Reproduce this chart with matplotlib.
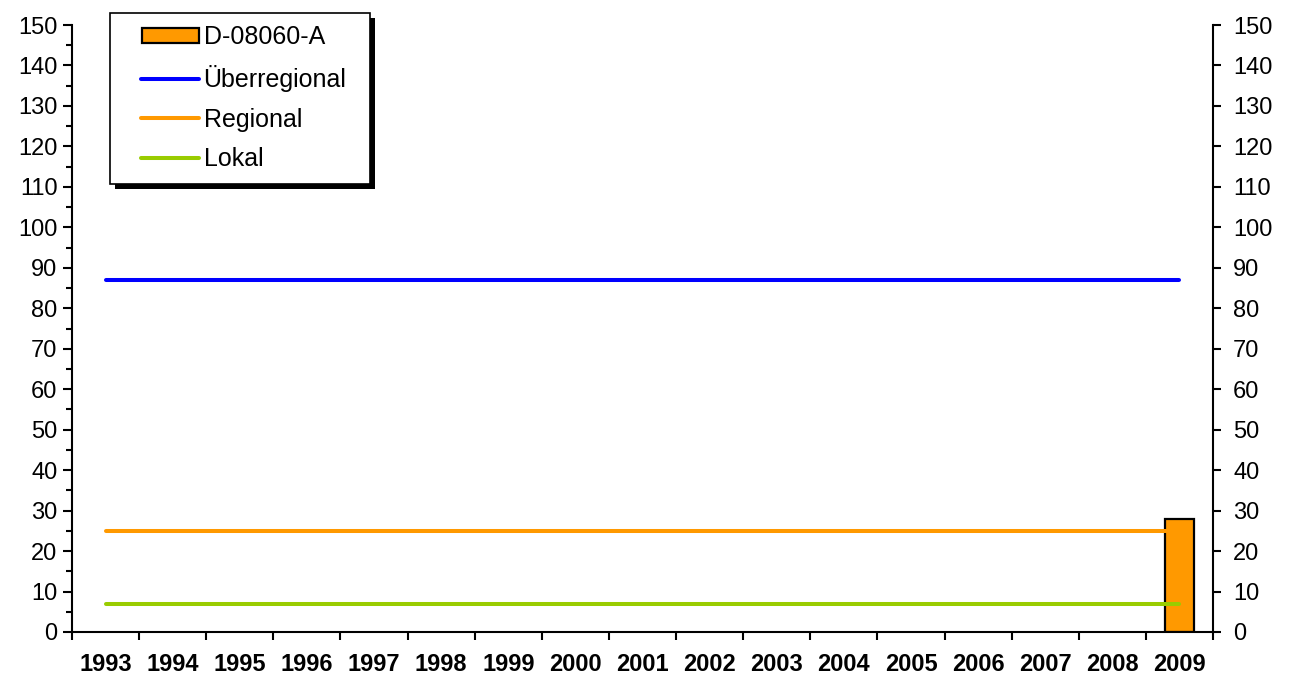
import matplotlib
matplotlib.use("Agg")
import matplotlib.pyplot as plt
import numpy as np
from matplotlib.ticker import MultipleLocator, FixedLocator
from matplotlib.patches import Rectangle
from matplotlib.lines import Line2D
from matplotlib.legend_handler import HandlerLine2D, HandlerPatch

plt.rcParams['font.family'] = ['Liberation Sans', 'DejaVu Sans']

years = [str(y) for y in range(1993, 2010)]
bar_values = [0] * 16 + [28]
ueberregional = [87] * 17
regional = [25] * 17
lokal = [7] * 17

BAR_COLOR = '#FF9900'
W, H = 1290, 678
fig = plt.figure(figsize=(W / 100, H / 100), dpi=100)
ax = fig.add_axes([72 / W, 1 - 632 / H, 1141 / W, 607 / H])

x = np.arange(len(years))
bars = ax.bar(x, bar_values, width=0.42, color=BAR_COLOR, edgecolor='black',
              linewidth=1.6, zorder=2)
for b, v in zip(bars, bar_values):
    if v == 0:
        b.set_linewidth(0)
line_kw = dict(lw=2.9, solid_capstyle='round', zorder=3)
l1, = ax.plot(x, ueberregional, color='#0000FF', **line_kw)
l2, = ax.plot(x, regional, color='#FF9900', **line_kw)
l3, = ax.plot(x, lokal, color='#99CC00', **line_kw)

ax.set_xlim(-0.5, len(years) - 0.5)
ax.set_ylim(0, 150)

for s in ['left', 'right', 'bottom']:
    ax.spines[s].set_linewidth(1.5)
ax.spines['top'].set_visible(False)

fs = 17
ax.yaxis.set_major_locator(MultipleLocator(10))
ax.yaxis.set_minor_locator(MultipleLocator(5))
ax.tick_params(axis='y', which='major', length=6.5, width=1.5, labelsize=fs, pad=4)
ax.tick_params(axis='y', which='minor', length=4.5, width=1.5)

ax.set_xticks(x)
ax.set_xticklabels(years, fontweight='bold', fontsize=fs)
ax.xaxis.set_minor_locator(FixedLocator(np.arange(-0.5, len(years), 1.0)))
ax.tick_params(axis='x', which='major', length=0, pad=15)
ax.tick_params(axis='x', which='minor', length=5.5, width=1.5)

ax2 = ax.twinx()
ax2.set_ylim(0, 150)
ax2.yaxis.set_major_locator(MultipleLocator(10))
ax2.tick_params(axis='y', which='major', length=5.5, width=1.5, labelsize=fs, pad=9)
for s in ax2.spines.values():
    s.set_visible(False)

# legend
lfs = 18
bar_handle = Rectangle((0, 0), 1, 1, facecolor=BAR_COLOR, edgecolor='black', linewidth=1.6)
xpad = 0.72
hmap = {Rectangle: HandlerPatch(xpad=xpad + 0.05),
        Line2D: HandlerLine2D(xpad=xpad)}
leg = fig.legend([bar_handle, l1, l2, l3], ['D-08060-A', 'Überregional', 'Regional', 'Lokal'],
                 loc='upper left', mode='expand',
                 bbox_to_anchor=(110 / W, 1 - 182 / H, 260 / W, 169 / H),
                 bbox_transform=fig.transFigure, borderaxespad=0,
                 fancybox=False, frameon=True, edgecolor='black', framealpha=1,
                 fontsize=lfs, handlelength=3.04, handleheight=0.56, handletextpad=0.2,
                 labelspacing=0.62, borderpad=0.5, handler_map=hmap)
leg.get_frame().set_linewidth(1.2)
leg.set_zorder(6)

# drop shadow behind the legend frame
fig.canvas.draw()
bb = leg.get_frame().get_window_extent()
off = 5
shadow = Rectangle(((bb.x0 + off) / W, (bb.y0 - off) / H), bb.width / W, bb.height / H,
                   transform=fig.transFigure, facecolor='black', edgecolor='none', zorder=5)
fig.add_artist(shadow)

fig.savefig('out.png', dpi=100)
